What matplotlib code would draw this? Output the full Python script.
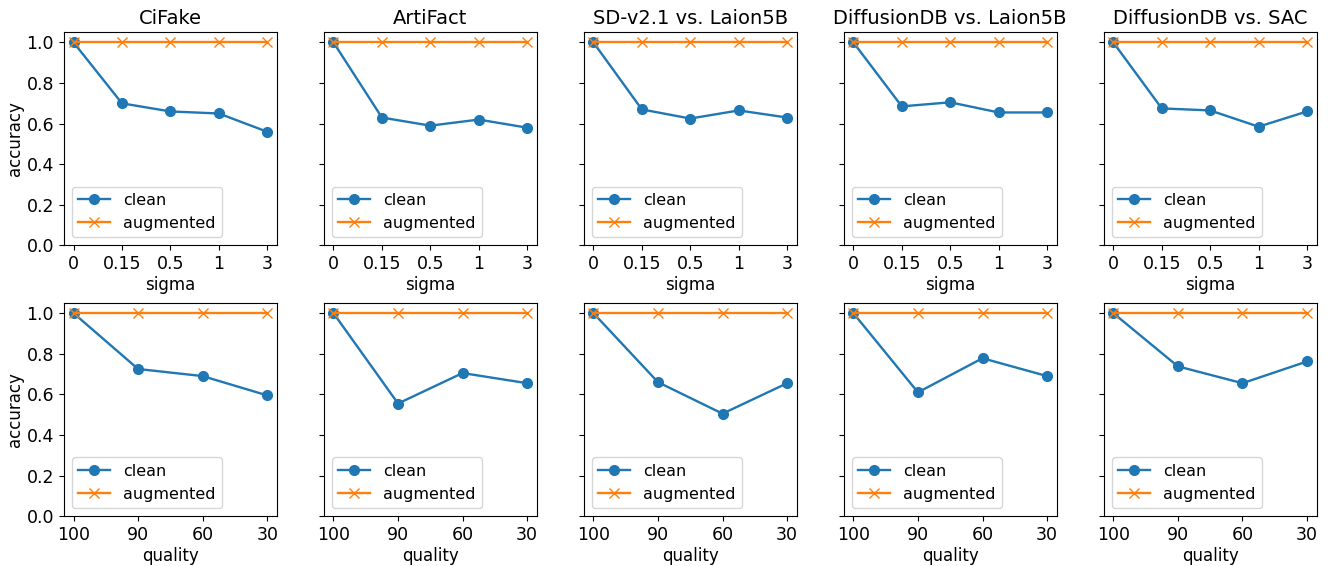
import matplotlib
matplotlib.use("Agg")
import matplotlib.pyplot as plt

datasets = ['CiFake', 'ArtiFact', 'SD-v2.1 vs. Laion5B', 'DiffusionDB vs. Laion5B', 'DiffusionDB vs. SAC']

sigma_labels = ['0', '0.15', '0.5', '1', '3']
quality_labels = ['100', '90', '60', '30']

# blur (sigma) - clean model accuracy
sigma_clean = [
    [1.0, 0.70, 0.66, 0.65, 0.56],
    [1.0, 0.63, 0.59, 0.62, 0.58],
    [1.0, 0.67, 0.625, 0.665, 0.63],
    [1.0, 0.685, 0.705, 0.655, 0.655],
    [1.0, 0.675, 0.665, 0.585, 0.66],
]
sigma_aug = [
    [1.0, 1.0, 1.0, 1.0, 1.0],
    [1.0, 1.0, 1.0, 1.0, 1.0],
    [1.0, 1.0, 1.0, 1.0, 1.0],
    [1.0, 1.0, 1.0, 1.0, 1.0],
    [1.0, 1.0, 1.0, 1.0, 1.0],
]

# jpeg (quality) - clean model accuracy
quality_clean = [
    [1.0, 0.725, 0.69, 0.595],
    [1.0, 0.555, 0.705, 0.655],
    [1.0, 0.66, 0.505, 0.655],
    [1.0, 0.61, 0.778, 0.69],
    [1.0, 0.738, 0.655, 0.762],
]
quality_aug = [
    [1.0, 1.0, 1.0, 1.0],
    [1.0, 1.0, 1.0, 1.0],
    [1.0, 1.0, 1.0, 1.0],
    [1.0, 1.0, 1.0, 1.0],
    [1.0, 1.0, 1.0, 1.0],
]

plt.rcParams['font.size'] = 12
plt.rcParams['xtick.labelsize'] = 12.5
plt.rcParams['ytick.labelsize'] = 12.5
plt.rcParams['axes.titlesize'] = 14
plt.rcParams['legend.fontsize'] = 11.5
plt.rcParams['lines.markersize'] = 7
plt.rcParams['lines.linewidth'] = 1.7

fig, axes = plt.subplots(2, 5, figsize=(13.3, 5.66), dpi=100, sharey=True)
fig.subplots_adjust(left=0.048, right=0.990, top=0.943, bottom=0.088, wspace=0.22, hspace=0.27)

for i, name in enumerate(datasets):
    # top row: sigma
    ax = axes[0, i]
    xs = list(range(len(sigma_labels)))
    ax.plot(xs, sigma_clean[i], 'o-', label='clean')
    ax.plot(xs, sigma_aug[i], 'x-', label='augmented')
    ax.set_xticks(xs)
    ax.set_xticklabels(sigma_labels)
    ax.set_xlabel('sigma', labelpad=2)
    ax.set_title(name)
    ax.set_ylim(0, 1.05)
    ax.legend(loc='lower left')

    # bottom row: quality
    ax = axes[1, i]
    xs = list(range(len(quality_labels)))
    ax.plot(xs, quality_clean[i], 'o-', label='clean')
    ax.plot(xs, quality_aug[i], 'x-', label='augmented')
    ax.set_xticks(xs)
    ax.set_xticklabels(quality_labels)
    ax.set_xlabel('quality', labelpad=2)
    ax.set_ylim(0, 1.05)
    ax.legend(loc='lower left')

axes[0, 0].set_ylabel('accuracy', labelpad=2)
axes[1, 0].set_ylabel('accuracy', labelpad=2)

plt.savefig('out.png')
